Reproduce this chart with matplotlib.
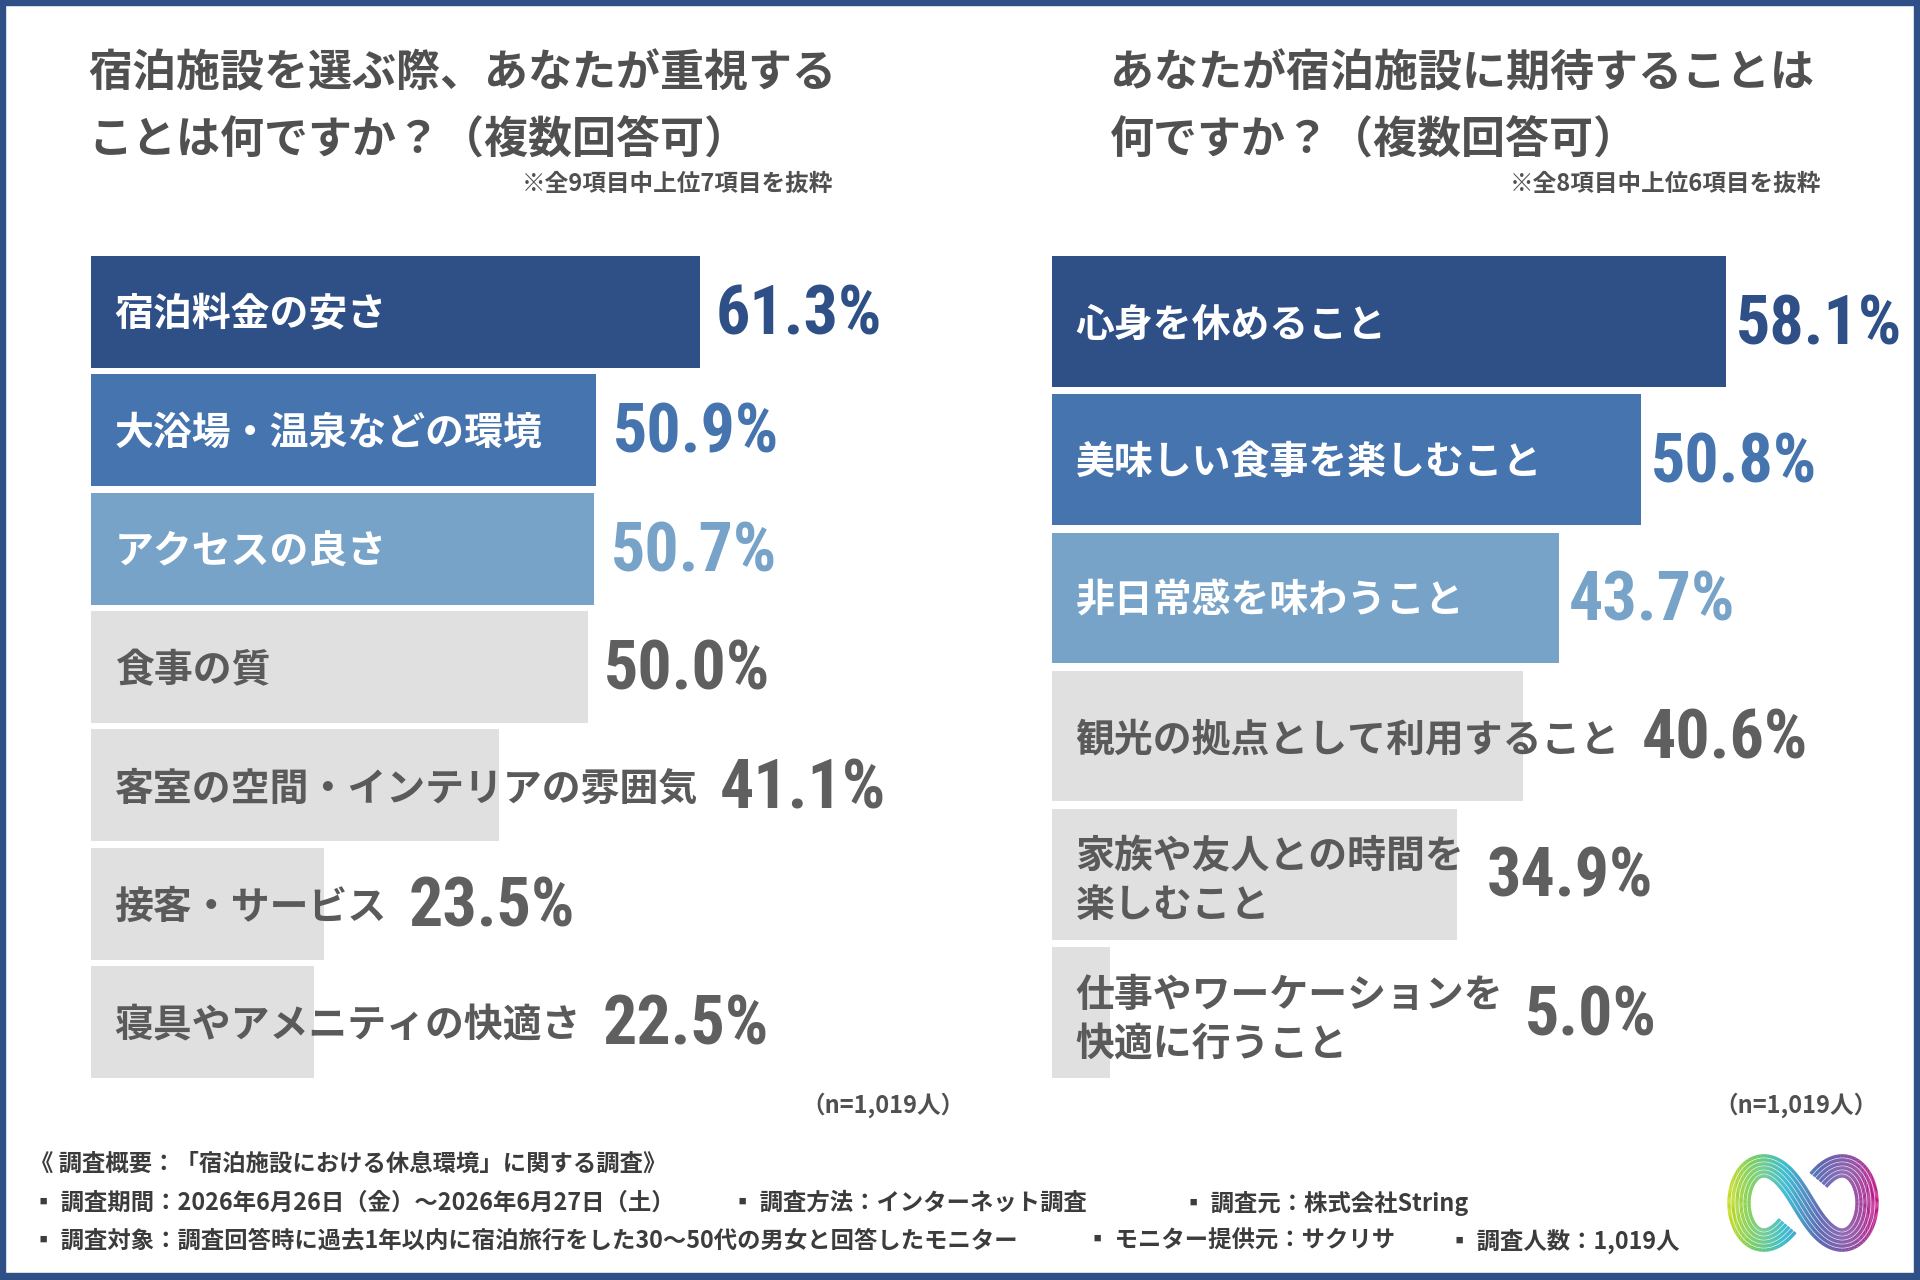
import matplotlib
matplotlib.use("Agg")
import matplotlib.pyplot as plt
import numpy as np
from matplotlib.patches import Rectangle
from matplotlib.collections import LineCollection
from matplotlib.colors import LinearSegmentedColormap
from matplotlib import font_manager
from matplotlib.font_manager import FontProperties

##############################################################################
# Fonts
JP = ['Noto Sans CJK JP', 'DejaVu Sans']
plt.rcParams['font.family'] = JP


def find_narrow_bold():
    # look for a narrow / condensed bold face for the big percentages
    best = None
    for f in font_manager.fontManager.ttflist:
        nm = (f.name + ' ' + f.fname).lower()
        narrow = ('narrow' in nm or 'condensed' in nm or
                  f.stretch in ('condensed', 'semi-condensed', 'extra-condensed'))
        w = f.weight if isinstance(f.weight, int) else (700 if 'bold' in str(f.weight) else 400)
        if narrow and w >= 600 and 'italic' not in nm and 'oblique' not in nm and f.style == 'normal':
            rank = 0 if 'liberation' in nm else 1 if 'roboto' in nm else 2 if 'dejavu' in nm else 3
            if best is None or rank < best[0]:
                best = (rank, f.fname)
    return best[1] if best else None


narrow_file = find_narrow_bold()
if narrow_file:
    NUM_PROP = dict(fontproperties=FontProperties(fname=narrow_file, size=49))
else:
    NUM_PROP = dict(family='Roboto', fontweight='bold', fontsize=42)

##############################################################################
# Data
left_title = ["宿泊施設を選ぶ際、あなたが重視する", "ことは何ですか？（複数回答可）"]
left_note = "※全9項目中上位7項目を抜粋"
left_labels = ["宿泊料金の安さ", "大浴場・温泉などの環境", "アクセスの良さ", "食事の質",
               "客室の空間・インテリアの雰囲気", "接客・サービス", "寝具やアメニティの快適さ"]
left_values = [61.3, 50.9, 50.7, 50.0, 41.1, 23.5, 22.5]

right_title = ["あなたが宿泊施設に期待することは", "何ですか？（複数回答可）"]
right_note = "※全8項目中上位6項目を抜粋"
right_labels = ["心身を休めること", "美味しい食事を楽しむこと", "非日常感を味わうこと",
                "観光の拠点として利用すること", "家族や友人との時間を\n楽しむこと",
                "仕事やワーケーションを\n快適に行うこと"]
right_values = [58.1, 50.8, 43.7, 40.6, 34.9, 5.0]

n_label = "（n=1,019人）"
footer_head = "《 調査概要：「宿泊施設における休息環境」に関する調査》"
footer_row1 = ["▪ 調査期間：2026年6月26日（金）～2026年6月27日（土）",
               "▪ 調査方法：インターネット調査", "▪ 調査元：株式会社String"]
footer_row2 = ["▪ 調査対象：調査回答時に過去1年以内に宿泊旅行をした30～50代の男女と回答したモニター",
               "▪ モニター提供元：サクリサ", "▪ 調査人数：1,019人"]

# Styles
NAVY = '#2F4F87'
MID = '#4674AE'
LIGHT = '#77A3C8'
GREY_BAR = '#E0E0E0'
GREY_TXT = '#5A5A5A'
TOP_COLORS = [NAVY, MID, LIGHT]

W, H = 1920, 1280
fig = plt.figure(figsize=(W / 100, H / 100), dpi=100)
fig.patch.set_facecolor('white')


def box(x0, y0, x1, y1):
    return [x0 / W, 1 - y1 / H, (x1 - x0) / W, (y1 - y0) / H]


##############################################################################
def draw_chart(ax, labels, values, xmax, gap_bar, gap_txt):
    n = len(values)
    colors = [TOP_COLORS[i] if i < 3 else GREY_BAR for i in range(n)]
    ax.barh(np.arange(n), values, height=0.945, color=colors)
    ax.set_xlim(0, xmax)
    ax.set_ylim(n - 0.5, -0.5)
    ax.axis('off')

    txts = []
    for i, lab in enumerate(labels):
        col = 'white' if i < 3 else GREY_TXT
        lines = lab.split("\n")
        offs = [-2.5] if len(lines) == 1 else [12.5, -22.5]
        group = []
        for line, dy in zip(lines, offs):
            t = ax.annotate(line, xy=(0, i), xytext=(17, dy), textcoords='offset points',
                            ha='left', va='center', fontsize=28, fontweight='bold',
                            color=col, family=JP)
            group.append(t)
        txts.append(group)

    renderer = fig.canvas.get_renderer()
    inv = ax.transData.inverted()
    for i, v in enumerate(values):
        bar_end = ax.transData.transform((v, i))[0]
        txt_end = max(t.get_window_extent(renderer).x1 for t in txts[i])
        xpx = max(bar_end + gap_bar, txt_end + gap_txt)
        xd = inv.transform((xpx, 0))[0]
        col = TOP_COLORS[i] if i < 3 else '#5F5F5F'
        ax.annotate(f"{v:.1f}%", xy=(xd, i), xytext=(0, -3), textcoords='offset points',
                    ha='left', va='center', color=col, **NUM_PROP)


# Left chart
ax1 = fig.add_axes(box(91, 252.5, 91 + 9.93 * 80, 1081.5))
draw_chart(ax1, left_labels, left_values, 80, 16, 22)

# Right chart
ax2 = fig.add_axes(box(1052, 252.5, 1052 + 11.6 * 72, 1081.5))
draw_chart(ax2, right_labels, right_values, 72, 10, 22)

# Titles
for (x, title) in [(88, left_title), (1110, right_title)]:
    for k, line in enumerate(title):
        fig.text(x / W, 1 - (73 + 67 * k) / H, line, ha='left', va='center',
                 fontsize=31.7, fontweight='bold', color='#505050')
fig.text(833 / W, 1 - 184 / H, left_note, ha='right', va='center', fontsize=17,
         fontweight='bold', color='#505050')
fig.text(1821 / W, 1 - 184 / H, right_note, ha='right', va='center', fontsize=17,
         fontweight='bold', color='#505050')

# n labels
fig.text(883 / W, 1 - 1105 / H, n_label, ha='center', va='center', fontsize=17,
         fontweight='bold', color='#505050')
fig.text(1796 / W, 1 - 1105 / H, n_label, ha='center', va='center', fontsize=17,
         fontweight='bold', color='#505050')

# Footer
FS = 16.8
fig.text(30 / W, 1 - 1164 / H, footer_head, ha='left', va='center', fontsize=FS,
         fontweight='bold', color='#3C3C3C')
for x, s in zip([32, 731, 1182], footer_row1):
    fig.text(x / W, 1 - 1203 / H, s, ha='left', va='center', fontsize=FS,
             fontweight='bold', color='#3C3C3C')
for x, s in zip([32, 1086, 1448], footer_row2):
    fig.text(x / W, 1 - 1241 / H, s, ha='left', va='center', fontsize=FS,
             fontweight='bold', color='#3C3C3C')

# Logo (rainbow infinity band)
axl = fig.add_axes(box(1718, 1152, 1888, 1254))
axl.set_xlim(-85, 85)
axl.set_ylim(-51, 51)
axl.axis('off')
t = np.linspace(np.pi / 2 + 0.45, 5 * np.pi / 2 - 0.45, 600)
den = 1 + np.sin(t) ** 2
cx = 64 * np.cos(t) / den
cy = 105 * np.sin(t) * np.cos(t) / den
dx, dy = np.gradient(cx), np.gradient(cy)
nrm = np.hypot(dx, dy)
nx, ny = -dy / nrm, dx / nrm
cmap = LinearSegmentedColormap.from_list('logo', ['#F4E400', '#5CC440', '#00A8C8',
                                                  '#2E3C9E', '#7A2A90', '#E4007F'])
for k in np.linspace(-10, 10, 6):
    px, py = cx + k * nx, cy + k * ny
    pts = np.column_stack([px, py]).reshape(-1, 1, 2)
    segs = np.concatenate([pts[:-1], pts[1:]], axis=1)
    lc = LineCollection(segs, cmap=cmap, linewidths=2.4, capstyle='butt')
    lc.set_array((px[:-1] + 85) / 170)
    lc.set_clim(0, 1)
    axl.add_collection(lc)

# Frame
for b in [box(0, 0, W, 5), box(0, 0, 5, H), box(W - 6, 0, W, H), box(0, H - 7, W, H)]:
    fig.add_artist(Rectangle((b[0], b[1]), b[2], b[3], transform=fig.transFigure,
                             color=NAVY, zorder=10))

fig.savefig('out.png', dpi=100)
